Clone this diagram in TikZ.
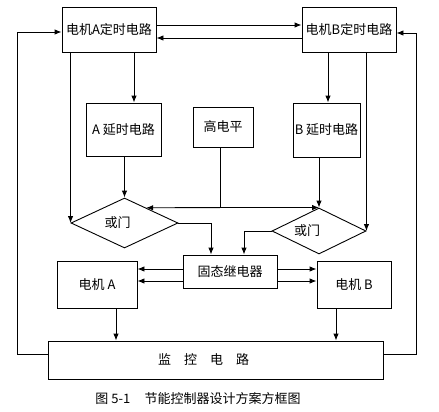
\documentclass[tikz,border=0pt]{standalone}
\usepackage{fontspec}
\setmainfont{Noto Sans CJK SC}
\usetikzlibrary{arrows.meta,shapes.geometric}
\begin{document}
\begin{tikzpicture}[x=1pt,y=-1pt,
  txt/.style={font=\fontsize{13}{15}\selectfont},
  box/.style={draw, line width=0.9pt, inner sep=0pt, txt},
  dia/.style={draw, diamond, line width=0.9pt, inner sep=0pt, txt},
  conn/.style={line width=0.9pt},
  arr/.style={conn, -{Latex[length=7pt,width=5.5pt]}}]
\useasboundingbox[fill=white] (0,0) rectangle (439,412);
% nodes
\node[box, minimum width=94pt, minimum height=45pt] (At) at (109,29.5) {电机A定时电路};
\node[box, minimum width=94pt, minimum height=45pt] (Bt) at (349,29.5) {电机B定时电路};
\node[box, minimum width=75pt, minimum height=53pt] (Ad) at (123.5,129.5) {A 延时电路};
\node[box, minimum width=60pt, minimum height=40pt] (HL) at (223,127) {高电平};
\node[box, minimum width=67pt, minimum height=54pt] (Bd) at (326.5,130) {B 延时电路};
\node[dia, minimum width=107pt, minimum height=50pt] (Ld) at (124.5,223) {\hspace*{-14pt}或门};
\node[dia, minimum width=94pt, minimum height=46pt] (Rd) at (319,231) {\hspace*{-24pt}或门};
\node[box, minimum width=94pt, minimum height=33pt] (Re) at (230,271.5) {固态继电器};
\node[box, minimum width=80pt, minimum height=47pt] (MA) at (97,284.5) {电机 A};
\node[box, minimum width=74pt, minimum height=47pt] (MB) at (354,284.5) {电机 B};
\node[box, minimum width=335pt, minimum height=38pt] (Mon) at (215.5,360) {监\hspace{13pt}控\hspace{13pt}电\hspace{13pt}路\hspace*{24pt}};
\node[txt] (cap) at (198,399) {图 5-1\hspace{1.1em}节能控制器设计方案方框图};
% helper coordinates
\coordinate (h25) at (0,25);
\coordinate (h38) at (0,38);
\coordinate (h32) at (0,32);
\coordinate (h33) at (0,33);
\coordinate (h354) at (0,354);
\coordinate (h269) at (0,269);
\coordinate (h281) at (0,281);
\coordinate (v17) at (17,0);
\coordinate (v416) at (416,0);
\coordinate (v134) at (134,0);
\coordinate (v328) at (328,0);
\coordinate (v211) at (211,0);
\coordinate (v244) at (244,0);
\coordinate (v116) at (116,0);
\coordinate (v336) at (336,0);
\coordinate (v220) at (220,0);
% connectors
\draw[arr] (At.east |- h25) -- (Bt.west |- h25);
\draw[arr] (Bt.west |- h38) -- (At.east |- h38);
\draw[arr] (At.south -| v134) -- (Ad.north -| v134);
\draw[arr] (Bt.south -| v328) -- (Bd.north -| v328);
\draw[arr] (At.south -| Ld.west) -- (Ld.west);
\draw[arr] (Bt.south -| Rd.east) -- (Rd.east);
\draw[arr] (Ad.south -| Ld.north) -- (Ld.north);
\draw[arr] (Bd.south -| Rd.north) -- (Rd.north);
\draw[conn] (HL.south -| v220) -- (v220 |- Rd.north) coordinate (J);
\draw[arr] (J) -- (Ld.35);
\draw[arr] (J) -- (Rd.north);
\draw[arr] (Ld.east) -| (Re.north -| v211);
\draw[arr] (Rd.west) -| (Re.north -| v244);
\draw[arr] (Re.west |- h269) -- (MA.east |- h269);
\draw[arr] (Re.west |- h281) -- (MA.east |- h281);
\draw[arr] (Re.east |- h269) -- (MB.west |- h269);
\draw[arr] (Re.east |- h281) -- (MB.west |- h281);
\draw[arr] (MA.south -| v116) -- (Mon.north -| v116);
\draw[arr] (MB.south -| v336) -- (Mon.north -| v336);
\draw[arr] (Mon.west |- h354) -| (v17 |- h32) -- (At.west |- h32);
\draw[arr] (Mon.east |- h354) -| (v416 |- h33) -- (Bt.east |- h33);
\end{tikzpicture}
\end{document}
